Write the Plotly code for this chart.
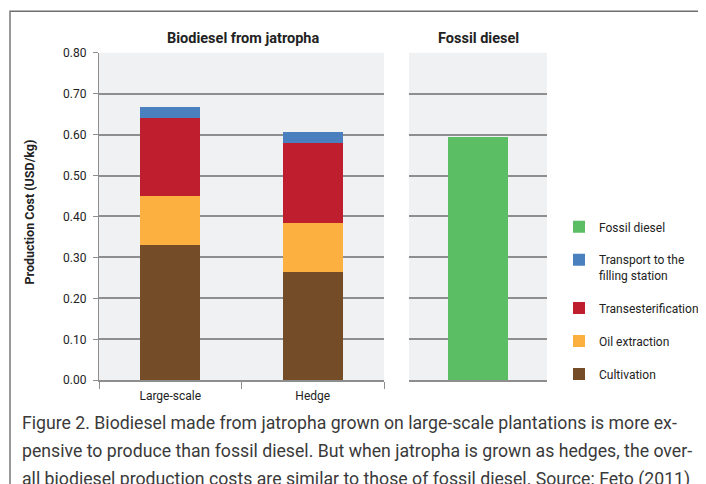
import plotly.graph_objects as go

W, H = 706, 484
OFF = 8  # default page body margin of the browser

# ---- data ----
categories = ["Large-scale", "Hedge"]
cultivation = [0.330, 0.265]
oil_extraction = [0.120, 0.120]
transesterification = [0.190, 0.195]
transport = [0.027, 0.027]
fossil_category = ["Fossil diesel"]
fossil_diesel = [0.593]

y_ticks = [0.0, 0.1, 0.2, 0.3, 0.4, 0.5, 0.6, 0.7, 0.8]

colors = {
    "Cultivation": "#754c28",
    "Oil extraction": "#fbb040",
    "Transesterification": "#be1e2d",
    "Transport": "#4a80bd",
    "Fossil diesel": "#5bbd64",
}

FONT = "Roboto, 'Open Sans', sans-serif"
GRID = "#8e8e8e"


def px_x(p):
    return (p - OFF) / W


def px_y(p):
    g = (p - 6.4) / 0.9726
    return 1 - (g - OFF) / H


fig = go.Figure()
w1 = 60 / 142.5
w2 = 60 / 138.0

series = [
    ("Cultivation", cultivation, "Cultivation", 5),
    ("Oil extraction", oil_extraction, "Oil extraction", 4),
    ("Transesterification", transesterification, "Transesterification", 3),
    ("Transport", transport, "Transport to the<br>filling station", 2),
]
for key, vals, label, rank in series:
    fig.add_trace(go.Bar(
        x=categories, y=vals, name=label, legendgroup=key, legendrank=rank,
        marker=dict(color=colors[key], line=dict(width=0)),
        width=[w1] * len(categories), xaxis="x", yaxis="y",
        hoverinfo="skip",
    ))

fig.add_trace(go.Bar(
    x=fossil_category, y=fossil_diesel, name="Fossil diesel",
    legendgroup="fossil", legendrank=1,
    marker=dict(color=colors["Fossil diesel"], line=dict(width=0)),
    width=[w2], xaxis="x2", yaxis="y2", hoverinfo="skip",
))

y_dom = [px_y(380), px_y(52)]

fig.update_layout(
    width=W, height=H,
    margin=dict(l=0, r=0, t=0, b=0),
    paper_bgcolor="white",
    plot_bgcolor="#f0f1f3",
    barmode="stack",
    font=dict(family=FONT, size=12, color="#222222"),
    showlegend=True,
    legend=dict(
        x=px_x(559), y=px_y(212), xanchor="left", yanchor="top",
        traceorder="grouped", tracegroupgap=14,
        valign="top",
        font=dict(family=FONT, size=12, color="#222222"),
        bgcolor="rgba(0,0,0,0)", borderwidth=0,
    ),
    xaxis=dict(
        domain=[px_x(99), px_x(384)], anchor="y",
        showline=True, linecolor=GRID, linewidth=1.5,
        ticks="outside", ticklen=7, tickcolor=GRID, tickwidth=1.2,
        tickson="boundaries", showgrid=False, ticklabelstandoff=4,
        tickfont=dict(family=FONT, size=12, color="#222222"),
    ),
    xaxis2=dict(
        domain=[px_x(409), px_x(547)], anchor="y2",
        showline=True, linecolor=GRID, linewidth=1.5,
        ticks="", showticklabels=False, showgrid=False,
    ),
    yaxis=dict(
        domain=y_dom, anchor="x", range=[0, 0.8],
        tickvals=y_ticks, tickformat=".2f",
        showgrid=True, gridcolor=GRID, gridwidth=1.5,
        showline=True, linecolor=GRID, linewidth=1.2,
        ticks="outside", ticklen=5, tickcolor=GRID, tickwidth=1.2,
        ticklabelstandoff=4,
        zeroline=False,
        tickfont=dict(family=FONT, size=12, color="#222222"),
    ),
    yaxis2=dict(
        domain=y_dom, anchor="x2", range=[0, 0.8],
        tickvals=y_ticks, showticklabels=False,
        showgrid=True, gridcolor=GRID, gridwidth=1.5,
        showline=False, zeroline=False, ticks="",
    ),
)

annotations = [
    dict(text="<b>Biodiesel from jatropha</b>", x=px_x(243), y=px_y(38),
         font=dict(family=FONT, size=14.5, color="#222222")),
    dict(text="<b>Fossil diesel</b>", x=px_x(478), y=px_y(38),
         font=dict(family=FONT, size=14.5, color="#222222")),
    dict(text="<b>Production Cost (USD/kg)</b>", x=px_x(30), y=px_y(212),
         textangle=-90, font=dict(family=FONT, size=12.5, color="#222222")),
]
caption = [
    "Figure 2. Biodiesel made from jatropha grown on large-scale plantations is more ex-",
    "pensive to produce than fossil diesel. But when jatropha is grown as hedges, the over-",
    "all biodiesel production costs are similar to those of fossil diesel. Source: Feto (2011)",
]
for i, line in enumerate(caption):
    annotations.append(dict(
        text=line, x=px_x(20), y=px_y(423 + 28 * i), xanchor="left",
        font=dict(family=FONT, size=17.7, color="#3a3a3a"),
    ))
for a in annotations:
    a.update(xref="paper", yref="paper", showarrow=False)
    a.setdefault("xanchor", "center")
    a.setdefault("yanchor", "middle")
fig.update_layout(annotations=annotations)

# outer frame
fig.add_shape(type="rect", xref="paper", yref="paper",
              x0=px_x(10), x1=px_x(740), y0=px_y(540), y1=px_y(10.5),
              line=dict(color="#6e6e6e", width=1.4), fillcolor="rgba(0,0,0,0)",
              layer="below")

fig.write_html("out.html")
